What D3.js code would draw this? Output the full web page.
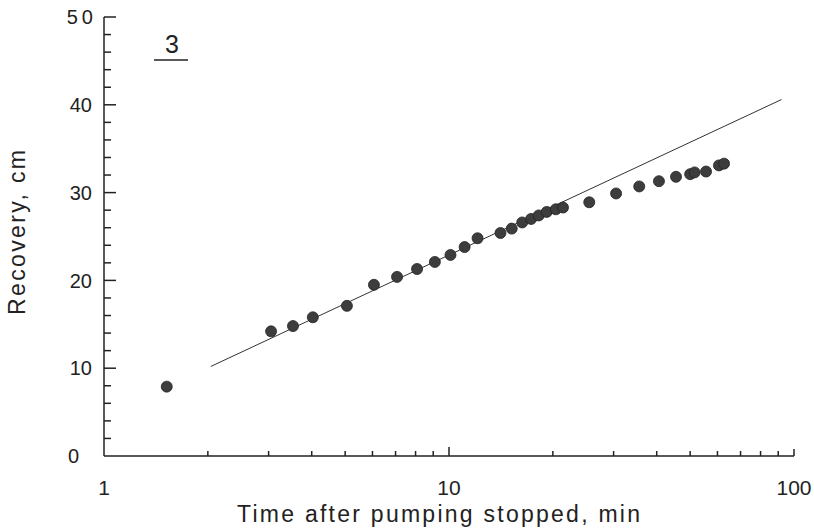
<!DOCTYPE html>
<html>
<head>
<meta charset="utf-8">
<script src="https://cdn.jsdelivr.net/npm/d3@7"></script>
<style>
  html, body { margin: 0; padding: 0; background: #fff; }
  svg text { font-family: "Liberation Sans", Arial, sans-serif; fill: #222; }
</style>
</head>
<body>
<div id="chart"></div>
<script>
// Time after pumping stopped (min) and recovery (cm)
const timeMin = [1.52, 3.05, 3.53, 4.03, 5.06, 6.06, 7.07, 8.08, 9.1, 10.1,
                 11.1, 12.1, 14.1, 15.2, 16.3, 17.3, 18.2, 19.2, 20.4, 21.4,
                 25.5, 30.5, 35.6, 40.6, 45.5, 50.0, 51.5, 55.6, 60.6, 62.7];
const recoveryCm = [7.9, 14.2, 14.8, 15.8, 17.1, 19.5, 20.4, 21.3, 22.1, 22.9,
                    23.8, 24.8, 25.4, 25.9, 26.6, 27.0, 27.4, 27.8, 28.1, 28.3,
                    28.9, 29.9, 30.7, 31.3, 31.8, 32.1, 32.3, 32.4, 33.1, 33.3];

// straight-line fit drawn through the early points
const fitTime     = [2.04, 92];
const fitRecovery = [10.2, 40.6];

const xMajorTicks = [1, 10, 100];
const xMinorTicks = [2, 3, 4, 5, 6, 7, 8, 9, 20, 30, 40, 50, 60, 70, 80, 90];
const yMajorTicks = [0, 10, 20, 30, 40, 50];
const yMinorTicks = [2, 4, 6, 8, 12, 14, 16, 18, 22, 24, 26, 28, 32, 34, 36, 38, 42, 44, 46, 48];

const xTitle = 'Time after pumping stopped,  min';
const yTitle = 'Recovery,  cm';
const panelLabel = '3';

const W = 814, H = 530;
const svg = d3.select('#chart').append('svg')
  .attr('width', W).attr('height', H);

const x = d3.scaleLog().domain([1, 100]).range([104, 794]);
const y = d3.scaleLinear().domain([0, 50]).range([456, 17]);

const ink = '#222';
const axisG = svg.append('g').attr('stroke', ink).attr('stroke-width', 1.5);

// axes lines
axisG.append('line')
  .attr('x1', x(1)).attr('x2', x(1))
  .attr('y1', y(50)).attr('y2', y(0));
axisG.append('line')
  .attr('x1', x(1)).attr('x2', x(100))
  .attr('y1', y(0)).attr('y2', y(0));

// y ticks point inward (right)
axisG.selectAll('.y-major').data(yMajorTicks.filter(d => d > 0)).join('line')
  .attr('x1', x(1)).attr('x2', x(1) + 12)
  .attr('y1', d => y(d)).attr('y2', d => y(d));
axisG.selectAll('.y-minor').data(yMinorTicks).join('line')
  .attr('class', 'y-minor')
  .attr('x1', x(1)).attr('x2', x(1) + 7)
  .attr('y1', d => y(d)).attr('y2', d => y(d));

// x ticks point inward (up)
axisG.selectAll('.x-major').data(xMajorTicks.filter(d => d > 1)).join('line')
  .attr('class', 'x-major')
  .attr('x1', d => x(d)).attr('x2', d => x(d))
  .attr('y1', y(0)).attr('y2', d => y(0) - (d === 10 ? 9 : 7));
axisG.selectAll('.x-minor').data(xMinorTicks).join('line')
  .attr('class', 'x-minor')
  .attr('x1', d => x(d)).attr('x2', d => x(d))
  .attr('y1', y(0)).attr('y2', y(0) - 5);

// tick labels
svg.selectAll('.y-label').data(yMajorTicks).join('text')
  .attr('class', 'y-label')
  .attr('x', d => d === 0 ? 79 : (d === 50 ? 97 : 92))
  .attr('y', d => y(d))
  .attr('dy', '0.36em')
  .attr('text-anchor', 'end')
  .attr('font-size', 20)
  .attr('letter-spacing', d => d === 50 ? 4 : 0)
  .text(d => d);

svg.selectAll('.x-label').data(xMajorTicks).join('text')
  .attr('class', 'x-label')
  .attr('x', d => x(d))
  .attr('y', 495)
  .attr('text-anchor', 'middle')
  .attr('font-size', 21)
  .text(d => d);

// axis titles
svg.append('text')
  .attr('x', 237).attr('y', 522)
  .attr('font-size', 23)
  .attr('textLength', 403).attr('lengthAdjust', 'spacing')
  .text(xTitle);

svg.append('text')
  .attr('transform', 'translate(25,315) rotate(-90)')
  .attr('font-size', 23)
  .attr('textLength', 165).attr('lengthAdjust', 'spacing')
  .text(yTitle);

// panel number with underline
svg.append('text')
  .attr('x', 172).attr('y', 53)
  .attr('text-anchor', 'middle')
  .attr('font-size', 25)
  .text(panelLabel);
svg.append('line')
  .attr('x1', 154).attr('x2', 188).attr('y1', 60).attr('y2', 60)
  .attr('stroke', ink).attr('stroke-width', 1.5);

// fitted line
svg.append('line')
  .attr('x1', x(fitTime[0])).attr('y1', y(fitRecovery[0]))
  .attr('x2', x(fitTime[1])).attr('y2', y(fitRecovery[1]))
  .attr('stroke', '#333').attr('stroke-width', 1);

// data points
svg.selectAll('.pt').data(timeMin.map((t, i) => [t, recoveryCm[i]])).join('circle')
  .attr('class', 'pt')
  .attr('cx', d => x(d[0]))
  .attr('cy', d => y(d[1]))
  .attr('r', 5.5)
  .attr('fill', '#3d3d3d')
  .attr('stroke', '#222')
  .attr('stroke-width', 0.8);
</script>
</body>
</html>
